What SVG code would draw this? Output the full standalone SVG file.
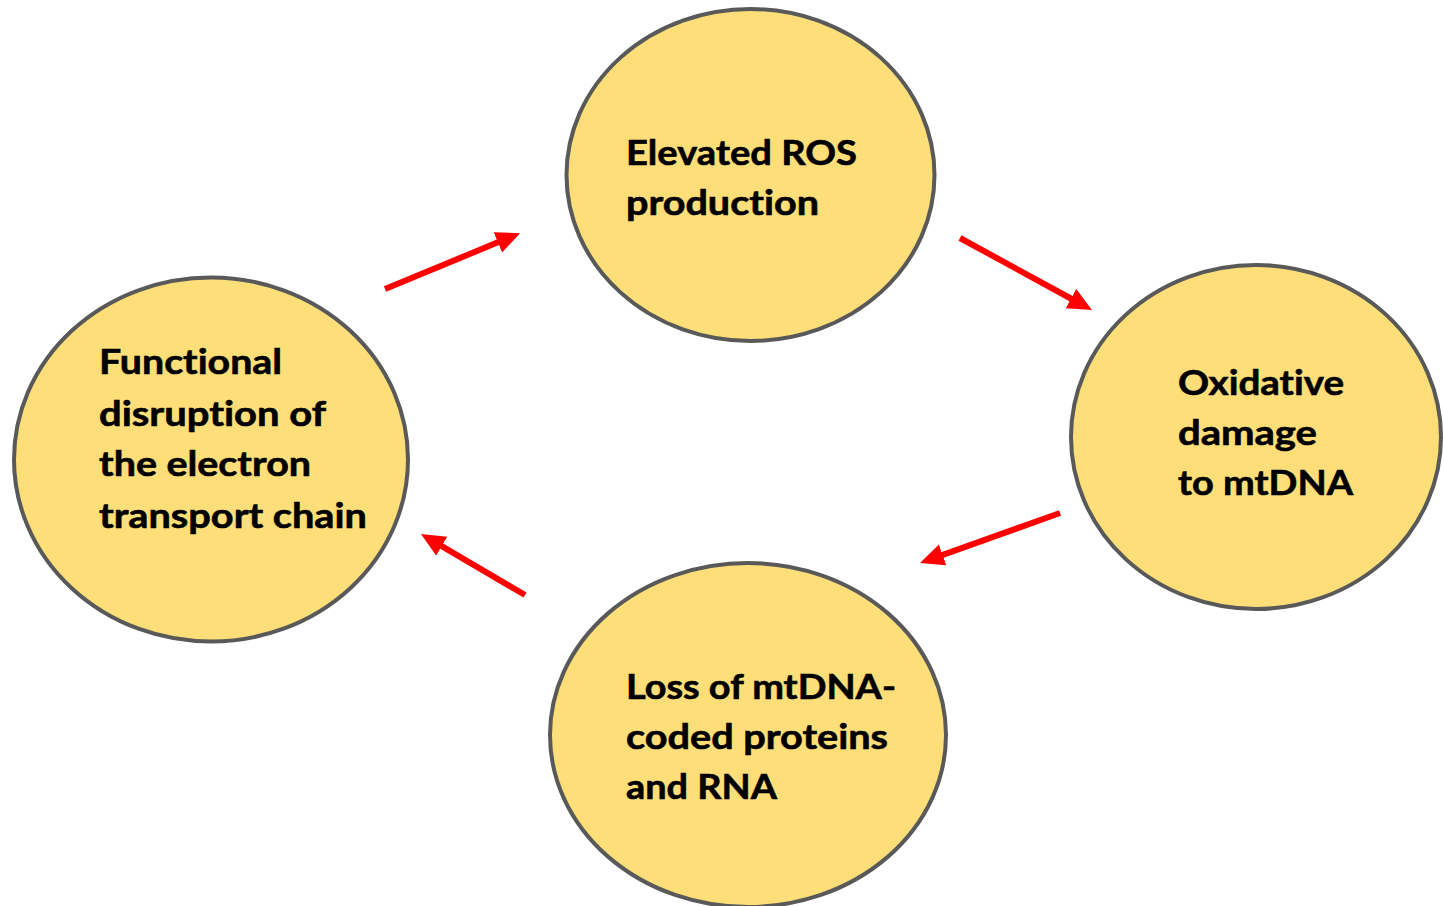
<svg xmlns="http://www.w3.org/2000/svg" width="1443" height="906" viewBox="0 0 1443 906">
<style>
.node ellipse{fill:#FDDE78;stroke:#595959;stroke-width:4}
.node text{font-family:"Lato","Open Sans","Liberation Sans",sans-serif;font-weight:bold;font-size:35px;fill:#000;stroke:#000;stroke-width:0.6px;font-variant-ligatures:none;font-feature-settings:"liga" 0,"clig" 0}
.conn line{stroke:#FF0000;stroke-width:6;fill:none}
</style>
<defs>
<marker id="ah" markerUnits="userSpaceOnUse" markerWidth="24" markerHeight="24" refX="2" refY="11" orient="auto">
<path d="M0,0 L24,11 L0,22 z" fill="#FF0000"/>
</marker>
</defs>
<rect width="1443" height="906" fill="#FFFFFF"/>
<g id="connectors" class="conn">
<line x1="385" y1="289" x2="499.7" y2="241.6" marker-end="url(#ah)"/>
<line x1="960" y1="238" x2="1072.7" y2="299.5" marker-end="url(#ah)"/>
<line x1="1060" y1="513" x2="940.7" y2="555.6" marker-end="url(#ah)"/>
<line x1="525" y1="595" x2="440" y2="545.1" marker-end="url(#ah)"/>
</g>
<g id="node-ros" class="node">
<ellipse cx="750.5" cy="175" rx="184" ry="166"/>
<text x="626" y="165" textLength="231" lengthAdjust="spacingAndGlyphs">Elevated ROS</text>
<text x="626" y="215" textLength="193" lengthAdjust="spacingAndGlyphs">production</text>
</g>
<g id="node-oxidative" class="node">
<ellipse cx="1256" cy="437" rx="185" ry="172"/>
<text x="1178" y="395" textLength="166" lengthAdjust="spacingAndGlyphs">Oxidative</text>
<text x="1178" y="445" textLength="139" lengthAdjust="spacingAndGlyphs">damage</text>
<text x="1178" y="495" textLength="175" lengthAdjust="spacingAndGlyphs">to mtDNA</text>
</g>
<g id="node-loss" class="node">
<ellipse cx="748" cy="735" rx="198" ry="172"/>
<text x="626" y="699" textLength="270" lengthAdjust="spacingAndGlyphs">Loss of mtDNA-</text>
<text x="626" y="749" textLength="262" lengthAdjust="spacingAndGlyphs">coded proteins</text>
<text x="626" y="799" textLength="151" lengthAdjust="spacingAndGlyphs">and RNA</text>
</g>
<g id="node-etc" class="node">
<ellipse cx="211" cy="459.5" rx="197" ry="182"/>
<text x="99" y="374" textLength="183" lengthAdjust="spacingAndGlyphs">Functional</text>
<text x="99" y="426" textLength="227" lengthAdjust="spacingAndGlyphs">disruption of</text>
<text x="99" y="476" textLength="212" lengthAdjust="spacingAndGlyphs">the electron</text>
<text x="99" y="528" textLength="268" lengthAdjust="spacingAndGlyphs">transport chain</text>
</g>
</svg>
